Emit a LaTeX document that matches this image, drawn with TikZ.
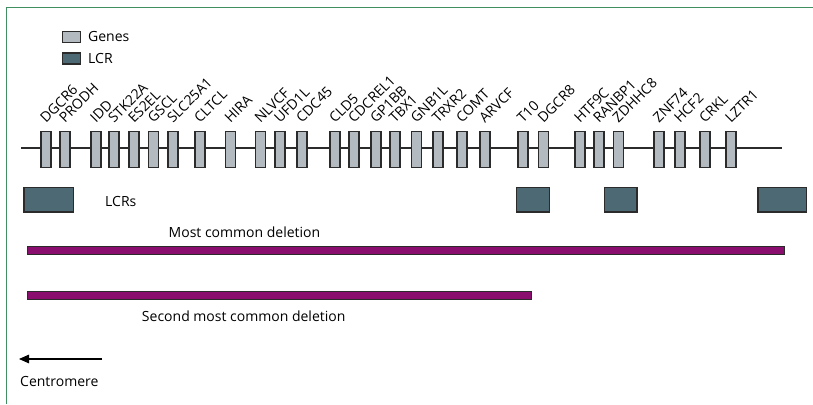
\documentclass[tikz,border=0pt]{standalone}
\usepackage{fontspec}
\setmainfont{Open Sans}
\usepackage{xcolor}
\usepackage{tikz}
\usetikzlibrary{arrows.meta, positioning}
\definecolor{genefill}{HTML}{B3BBC1}
\definecolor{lcrfill}{HTML}{4D6A74}
\definecolor{delpurple}{HTML}{8A0E6D}
\definecolor{edge}{HTML}{2B2B2B}
\definecolor{framegreen}{HTML}{3F8F60}

\begin{document}
\begin{tikzpicture}[
    x=1pt, y=1pt,
    font=\fontsize{14}{16}\selectfont,
    gene/.style={rectangle, draw=edge, fill=genefill, line width=1.3pt, minimum width=10.2pt, minimum height=36.2pt, inner sep=0pt},
    lcr/.style={rectangle, draw=edge, fill=lcrfill, line width=1.3pt, minimum height=24.7pt, inner sep=0pt},
    legbox/.style={rectangle, draw=edge, line width=1.1pt, minimum width=18pt, minimum height=11pt, inner sep=0pt},
    delbar/.style={rectangle, draw=edge, fill=delpurple, line width=1.3pt, minimum height=7.7pt, inner sep=0pt},
    glabel/.style={rotate=45, anchor=base west, inner sep=0pt},
    txt/.style={inner sep=0pt},
    arr/.style={-{Triangle[length=10pt, width=8.5pt]}, line width=1.3pt, color=black}
]
\useasboundingbox (0,0) rectangle (813,404);

% frame
\draw[framegreen, line width=1.4pt] (6.5,0) -- (6.5,396.5) -- (813,396.5);

% legend
\node[legbox, fill=genefill] (leggene) at (71.5,367) {};
\node[legbox, fill=lcrfill] (leglcr) at (71.5,345.5) {};
\node[txt, anchor=west] (leggenetxt) at (88,367) {Genes};
\node[txt, anchor=west] (leglcrtxt) at (88,345.5) {LCR};

% chromosome
\coordinate (chrl) at (21,256);
\coordinate (chrr) at (782,256);
\draw[edge, line width=1.5pt] (chrl) -- (chrr);

% genes
\node[gene] (dgcr6) at (46,254.5) {};
\node[gene] (prodh) at (65,254.5) {};
\node[gene] (idd) at (96,254.5) {};
\node[gene] (stk22a) at (114,254.5) {};
\node[gene] (es2el) at (134,254.5) {};
\node[gene] (gscl) at (153.5,254.5) {};
\node[gene] (slc25a1) at (173,254.5) {};
\node[gene] (cltcl) at (200,254.5) {};
\node[gene] (hira) at (230.5,254.5) {};
\node[gene] (nlvcf) at (260.5,254.5) {};
\node[gene] (ufd1l) at (280,254.5) {};
\node[gene] (cdc45) at (302,254.5) {};
\node[gene] (cld5) at (335,254.5) {};
\node[gene] (cdcrel1) at (354,254.5) {};
\node[gene] (gp1bb) at (376,254.5) {};
\node[gene] (tbx1) at (395,254.5) {};
\node[gene] (gnb1l) at (416.5,254.5) {};
\node[gene] (trxr2) at (438,254.5) {};
\node[gene] (comt) at (462,254.5) {};
\node[gene] (arvcf) at (485,254.5) {};
\node[gene] (t10) at (523,254.5) {};
\node[gene] (dgcr8) at (543.5,254.5) {};
\node[gene] (htf9c) at (580,254.5) {};
\node[gene] (ranbp1) at (599,254.5) {};
\node[gene] (zdhhc8) at (618.5,254.5) {};
\node[gene] (znf74) at (659,254.5) {};
\node[gene] (hcf2) at (680,254.5) {};
\node[gene] (crkl) at (705,254.5) {};
\node[gene] (lztr1) at (731,254.5) {};

% gene names
\node[glabel] (dgcr6-l) at ([yshift=7pt]dgcr6.north) {DGCR6};
\node[glabel] (prodh-l) at ([yshift=7pt]prodh.north) {PRODH};
\node[glabel] (idd-l) at ([yshift=7pt]idd.north) {IDD};
\node[glabel] (stk22a-l) at ([yshift=7pt]stk22a.north) {STK22A};
\node[glabel] (es2el-l) at ([yshift=7pt]es2el.north) {ES2EL};
\node[glabel] (gscl-l) at ([yshift=7pt]gscl.north) {GSCL};
\node[glabel] (slc25a1-l) at ([yshift=7pt]slc25a1.north) {SLC25A1};
\node[glabel] (cltcl-l) at ([yshift=7pt]cltcl.north) {CLTCL};
\node[glabel] (hira-l) at ([yshift=7pt]hira.north) {HIRA};
\node[glabel] (nlvcf-l) at ([yshift=7pt]nlvcf.north) {NLVCF};
\node[glabel] (ufd1l-l) at ([yshift=7pt]ufd1l.north) {UFD1L};
\node[glabel] (cdc45-l) at ([yshift=7pt]cdc45.north) {CDC45};
\node[glabel] (cld5-l) at ([yshift=7pt]cld5.north) {CLD5};
\node[glabel] (cdcrel1-l) at ([yshift=7pt]cdcrel1.north) {CDCREL1};
\node[glabel] (gp1bb-l) at ([yshift=7pt]gp1bb.north) {GP1BB};
\node[glabel] (tbx1-l) at ([yshift=7pt]tbx1.north) {TBX1};
\node[glabel] (gnb1l-l) at ([yshift=7pt]gnb1l.north) {GNB1L};
\node[glabel] (trxr2-l) at ([yshift=7pt]trxr2.north) {TRXR2};
\node[glabel] (comt-l) at ([yshift=7pt]comt.north) {COMT};
\node[glabel] (arvcf-l) at ([yshift=7pt]arvcf.north) {ARVCF};
\node[glabel] (t10-l) at ([yshift=7pt]t10.north) {T10};
\node[glabel] (dgcr8-l) at ([yshift=7pt]dgcr8.north) {DGCR8};
\node[glabel] (htf9c-l) at ([yshift=7pt]htf9c.north) {HTF9C};
\node[glabel] (ranbp1-l) at ([yshift=7pt]ranbp1.north) {RANBP1};
\node[glabel] (zdhhc8-l) at ([yshift=7pt]zdhhc8.north) {ZDHHC8};
\node[glabel] (znf74-l) at ([yshift=7pt]znf74.north) {ZNF74};
\node[glabel] (hcf2-l) at ([yshift=7pt]hcf2.north) {HCF2};
\node[glabel] (crkl-l) at ([yshift=7pt]crkl.north) {CRKL};
\node[glabel] (lztr1-l) at ([yshift=7pt]lztr1.north) {LZTR1};

% LCRs
\node[lcr, minimum width=49.4pt] (lcra) at (48.7,204.3) {};
\node[lcr, minimum width=32.7pt] (lcrb) at (533,204.3) {};
\node[lcr, minimum width=32.4pt] (lcrc) at (620.8,204.3) {};
\node[lcr, minimum width=48.7pt] (lcrd) at (782.3,204.3) {};
\node[txt, anchor=west] (lcrtxt) at (105,202.3) {LCRs};

% deletions
\node[delbar, minimum width=757pt] (mostdel) at (405.9,153.5) {};
\node[txt] (mostdeltxt) at (244.5,172) {Most common deletion};
\node[delbar, minimum width=504pt] (seconddel) at (279.7,108.5) {};
\node[txt] (seconddeltxt) at (243.7,88) {Second most common deletion};

% centromere
\coordinate (cenr) at (102,45);
\coordinate (cenl) at (19,45);
\draw[arr] (cenr) -- (cenl);
\node[txt, anchor=west] (centxt) at (20,22.3) {Centromere};

\end{tikzpicture}
\end{document}
